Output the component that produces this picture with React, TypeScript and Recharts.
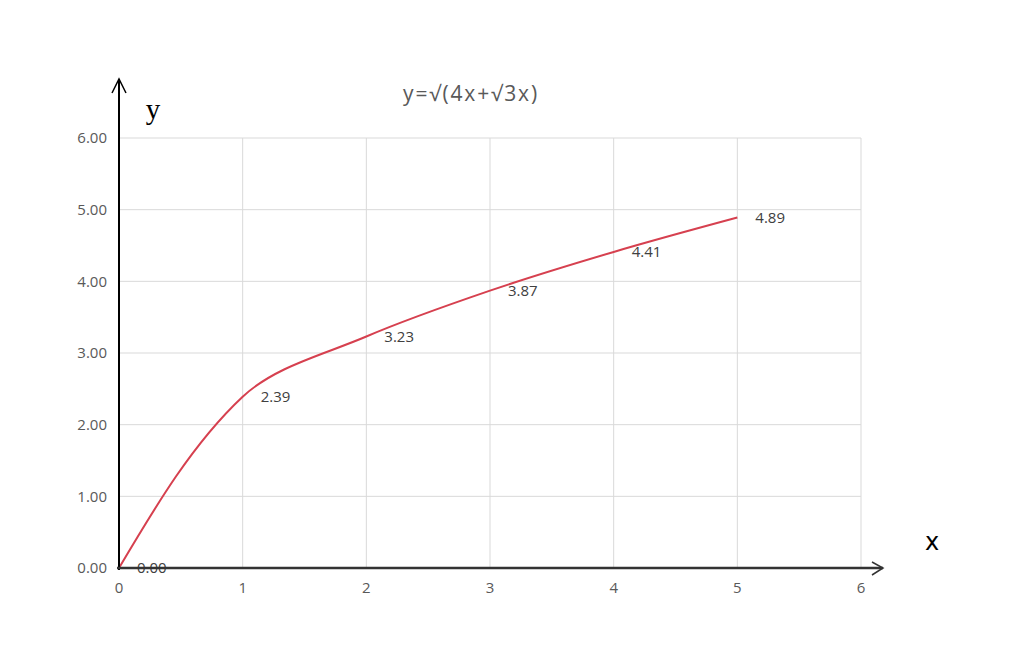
import React from "react";
import { LineChart, Line, XAxis, YAxis, CartesianGrid, LabelList } from "recharts";

const xValues = [0, 1, 2, 3, 4, 5];
const yValues = [0, 2.39, 3.23, 3.87, 4.41, 4.89];
const xTicks = [0, 1, 2, 3, 4, 5, 6];
const yTicks = [0, 1, 2, 3, 4, 5, 6];
const title = "y=√(4x+√3x)";

const data = xValues.map((x, i) => ({ x, y: yValues[i] }));

const FONT = "'Open Sans', 'Noto Sans', sans-serif";
const tickFont = { fontSize: 15, fill: "#595959", fontFamily: FONT };

// Spreadsheet-style smoothed line (chord-weighted Catmull-Rom Bezier)
const smoothCurve = (context: any) => {
  let pts: number[][] = [];
  return {
    areaStart() {},
    areaEnd() {},
    lineStart() {
      pts = [];
    },
    point(x: number, y: number) {
      pts.push([+x, +y]);
    },
    lineEnd() {
      const n = pts.length;
      if (!n) return;
      context.moveTo(pts[0][0], pts[0][1]);
      if (n === 1) return;
      if (n === 2) {
        context.lineTo(pts[1][0], pts[1][1]);
        return;
      }
      const dist = (a: number[], b: number[]) => Math.hypot(b[0] - a[0], b[1] - a[1]);
      const cin: number[][] = [];
      const cout: number[][] = [];
      for (let i = 1; i < n - 1; i++) {
        const tx = pts[i + 1][0] - pts[i - 1][0];
        const ty = pts[i + 1][1] - pts[i - 1][1];
        const d0 = dist(pts[i - 1], pts[i]);
        const d1 = dist(pts[i], pts[i + 1]);
        const s = d0 + d1 || 1;
        cin[i] = [pts[i][0] - (tx * d0) / s / 3, pts[i][1] - (ty * d0) / s / 3];
        cout[i] = [pts[i][0] + (tx * d1) / s / 3, pts[i][1] + (ty * d1) / s / 3];
      }
      cout[0] = [pts[0][0] + (cin[1][0] - pts[0][0]) * 0.5, pts[0][1] + (cin[1][1] - pts[0][1]) * 0.5];
      cin[n - 1] = [
        pts[n - 1][0] + (cout[n - 2][0] - pts[n - 1][0]) * 0.5,
        pts[n - 1][1] + (cout[n - 2][1] - pts[n - 1][1]) * 0.5,
      ];
      for (let i = 0; i < n - 1; i++) {
        context.bezierCurveTo(cout[i][0], cout[i][1], cin[i + 1][0], cin[i + 1][1], pts[i + 1][0], pts[i + 1][1]);
      }
    },
  };
};

export default function App() {
  return (
    <div style={{ position: "relative", width: 1024, height: 664, margin: "-8px 0 0 -8px", background: "#fff" }}>
      <LineChart
        width={1024}
        height={664}
        data={data}
        margin={{ top: 138, right: 163, bottom: 66, left: 59 }}
      >
        <CartesianGrid stroke="#d9d9d9" strokeWidth={1} />
        <XAxis
          dataKey="x"
          type="number"
          domain={[0, 6]}
          ticks={xTicks}
          axisLine={false}
          tickLine={false}
          tickSize={0}
          tickMargin={14}
          height={30}
          tick={tickFont}
        />
        <YAxis
          type="number"
          domain={[0, 6]}
          ticks={yTicks}
          axisLine={false}
          tickLine={false}
          tickSize={0}
          tickMargin={12}
          width={60}
          tick={tickFont}
          tickFormatter={(v: number) => v.toFixed(2)}
        />
        <Line
          dataKey="y"
          type={smoothCurve as any}
          stroke="#d6404f"
          strokeWidth={2}
          dot={false}
          isAnimationActive={false}
        >
          <LabelList
            dataKey="y"
            position="right"
            offset={18}
            formatter={(v: number) => v.toFixed(2)}
            style={{ fontSize: 15, fill: "#404040", fontFamily: FONT }}
          />
        </Line>
      </LineChart>
      <svg
        width={1024}
        height={664}
        style={{ position: "absolute", left: 0, top: 0, pointerEvents: "none" }}
      >
        <line x1={119} y1={79} x2={119} y2={570} stroke="#000" strokeWidth={2} />
        <polyline points="112,93 119,79 126,93" fill="none" stroke="#000" strokeWidth={1.5} />
        <line x1={117} y1={568} x2={883} y2={568} stroke="#333" strokeWidth={2.5} />
        <polyline points="872,562 883,568 872,575" fill="none" stroke="#333" strokeWidth={1.5} />
        <text
          x={471}
          y={93}
          textAnchor="middle"
          dominantBaseline="central"
          fontSize={21}
          letterSpacing={1.8}
          fill="#595959"
          fontFamily={FONT}
        >
          {title}
        </text>
        <text x={153} y={119} textAnchor="middle" fontSize={29} fill="#000" fontFamily="'Liberation Serif', serif">
          y
        </text>
        <text x={932} y={550} textAnchor="middle" fontSize={24} fill="#000" fontFamily="'DejaVu Sans', sans-serif">
          x
        </text>
      </svg>
    </div>
  );
}
